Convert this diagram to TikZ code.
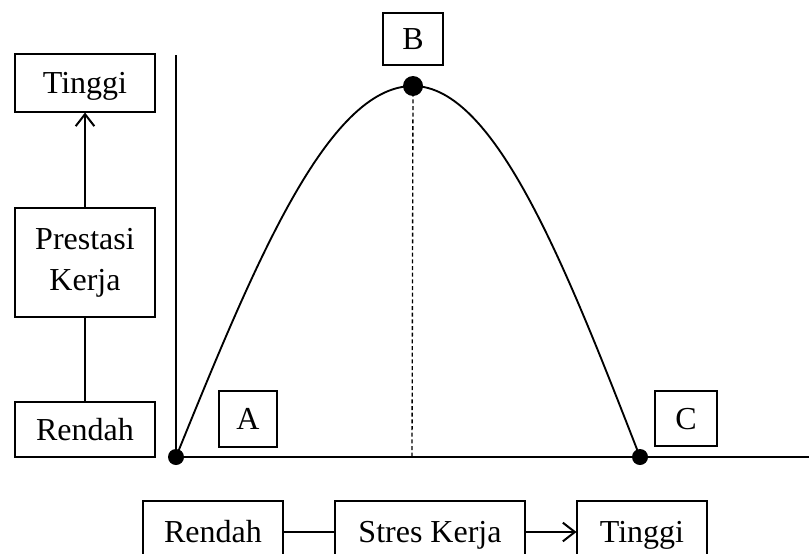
\documentclass[tikz,border=0pt]{standalone}
\usepackage{fontspec}
\setmainfont{Liberation Serif}
\usetikzlibrary{arrows.meta}
\begin{document}
\begin{tikzpicture}[x=0.75pt,y=-0.75pt,
  box/.style={draw,line width=0.8pt,inner sep=0pt,align=center,
    font=\fontsize{24}{30.7}\selectfont},
  one/.style={box,text height=15.8pt,text depth=0pt},
  dot/.style={circle,fill=black,inner sep=0pt},
  axis/.style={line width=1.6pt},
  conn/.style={line width=1.5pt},
  arr/.style={conn,-{Straight Barb[length=9pt,width=14pt,line width=1.5pt]}}]
\useasboundingbox (0,0) rectangle (809,553);
\clip (0,0) rectangle (809,553);
% left column
\node[one,minimum width=105pt,minimum height=43.5pt] (ltop) at (85,83) {Tinggi};
\node[box,minimum width=105pt,minimum height=81.75pt] (lmid) at (85,262.5) {Prestasi\\Kerja};
\node[one,minimum width=105pt,minimum height=41.25pt] (lbot) at (85,429.5) {Rendah};
\draw[arr] (lmid.north) -- (ltop.south);
\draw[conn] (lbot.north) -- (lmid.south);
% axes
\coordinate (ytop) at (176,55);
\coordinate (xend) at (812,457);
\coordinate (pA) at (176,457);
\coordinate (pB) at (413,86);
\coordinate (pC) at (640,457);
\coordinate (foot) at (412,457);
\draw[axis] (ytop) -- (pA) -- (xend);
\draw[line width=1.4pt] (pA) sin (pB) cos (pC);
\draw[line width=1pt,dash pattern=on 3pt off 2pt] (pB) -- (foot);
\node[dot,minimum size=12pt] (dA) at (pA) {};
\node[dot,minimum size=15pt] (dB) at (pB) {};
\node[dot,minimum size=12pt] (dC) at (pC) {};
% letter boxes
\node[one,minimum width=43.5pt,minimum height=42pt] (bA) at (248,419) {A};
\node[one,minimum width=45pt,minimum height=39pt] (bB) at (413,39) {B};
\node[one,minimum width=46.5pt,minimum height=41.25pt] (bC) at (686,418.5) {C};
% bottom row
\node[one,minimum width=105pt,minimum height=46.5pt] (xlo) at (213,532) {Rendah};
\node[one,minimum width=142.5pt,minimum height=46.5pt] (xmid) at (430,532) {Stres Kerja};
\node[one,minimum width=97.5pt,minimum height=46.5pt] (xhi) at (642,532) {Tinggi};
\draw[conn] (xlo.east) -- (xmid.west);
\draw[arr] (xmid.east) -- (xhi.west);
\end{tikzpicture}
\end{document}
